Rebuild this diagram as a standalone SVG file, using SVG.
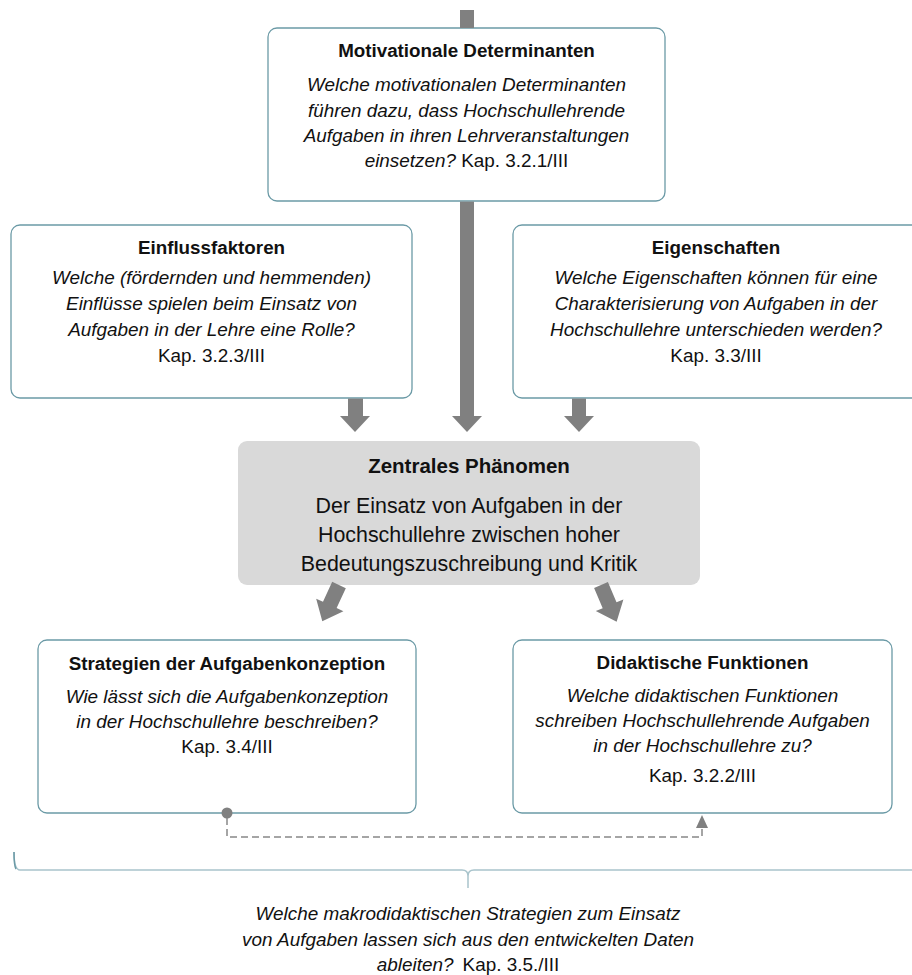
<svg xmlns="http://www.w3.org/2000/svg" width="912" height="975" viewBox="0 0 912 975">
<style>
  .box { fill: #ffffff; stroke: #6b9aa6; stroke-width: 1.3; }
  .core { fill: #d9d9d9; stroke: none; }
  .arr { fill: #808080; stroke: none; }
  text { font-family: "Liberation Sans", Arial, sans-serif; fill: #111; text-anchor: middle; }
  .t { font-weight: bold; font-size: 18.8px; }
  .q { font-style: italic; font-size: 18.9px; }
  .k { font-style: normal; }
  .ct { font-weight: bold; font-size: 20.5px; }
  .cb { font-size: 21.4px; }
  .dash { fill: none; stroke: #888; stroke-width: 1.5; stroke-dasharray: 7 4; }
  .brace { fill: none; stroke: #a9c4cc; stroke-width: 1.5; }
</style>

<g id="motivationale">
  <rect class="box" x="268" y="28" width="397" height="173" rx="9"/>
  <text class="t" x="466.5" y="57">Motivationale Determinanten</text>
  <text class="q" x="466.5" y="91">Welche motivationalen Determinanten</text>
  <text class="q" x="466.5" y="117">führen dazu, dass Hochschullehrende</text>
  <text class="q" x="466.5" y="142">Aufgaben in ihren Lehrveranstaltungen</text>
  <text class="q" x="466.5" y="167">einsetzen?<tspan class="k"> Kap. 3.2.1/III</tspan></text>
</g>

<g id="einflussfaktoren">
  <rect class="box" x="11" y="225" width="401" height="173" rx="9"/>
  <text class="t" x="211.5" y="254">Einflussfaktoren</text>
  <text class="q" x="211.5" y="284">Welche (fördernden und hemmenden)</text>
  <text class="q" x="211.5" y="310">Einflüsse spielen beim Einsatz von</text>
  <text class="q" x="211.5" y="336">Aufgaben in der Lehre eine Rolle?</text>
  <text class="q k" x="211.5" y="362">Kap. 3.2.3/III</text>
</g>

<g id="eigenschaften">
  <rect class="box" x="513" y="225" width="410" height="173" rx="9"/>
  <text class="t" x="716" y="254">Eigenschaften</text>
  <text class="q" x="716" y="284">Welche Eigenschaften können für eine</text>
  <text class="q" x="716" y="310">Charakterisierung von Aufgaben in der</text>
  <text class="q" x="716" y="336">Hochschullehre unterschieden werden?</text>
  <text class="q k" x="716" y="362">Kap. 3.3/III</text>
</g>

<g id="zentrales-phaenomen">
  <rect class="core" x="238" y="441" width="462" height="144" rx="9"/>
  <text class="ct" x="469" y="473">Zentrales Phänomen</text>
  <text class="cb" x="469" y="513">Der Einsatz von Aufgaben in der</text>
  <text class="cb" x="469" y="542">Hochschullehre zwischen hoher</text>
  <text class="cb" x="469" y="571">Bedeutungszuschreibung und Kritik</text>
</g>

<g id="strategien">
  <rect class="box" x="38" y="640" width="378" height="173" rx="9"/>
  <text class="t" x="227" y="670">Strategien der Aufgabenkonzeption</text>
  <text class="q" x="227" y="703">Wie lässt sich die Aufgabenkonzeption</text>
  <text class="q" x="227" y="728">in der Hochschullehre beschreiben?</text>
  <text class="q k" x="227" y="753">Kap. 3.4/III</text>
</g>

<g id="didaktische-funktionen">
  <rect class="box" x="513" y="640" width="379" height="173" rx="9"/>
  <text class="t" x="702.5" y="669">Didaktische Funktionen</text>
  <text class="q" x="702.5" y="702">Welche didaktischen Funktionen</text>
  <text class="q" x="702.5" y="727">schreiben Hochschullehrende Aufgaben</text>
  <text class="q" x="702.5" y="752">in der Hochschullehre zu?</text>
  <text class="q k" x="702.5" y="782">Kap. 3.2.2/III</text>
</g>

<g id="makrodidaktik">
  <text class="q" x="468" y="920">Welche makrodidaktischen Strategien zum Einsatz</text>
  <text class="q" x="468" y="946">von Aufgaben lassen sich aus den entwickelten Daten</text>
  <text class="q" x="468" y="971">ableiten?<tspan class="k" dx="9">Kap. 3.5./III</tspan></text>
</g>

<g id="connectors">
  <!-- vertical arrow from top, passing behind Motivationale box -->
  <rect class="arr" x="460" y="10" width="14" height="18"/>
  <rect class="arr" x="460" y="201.6" width="14" height="215.4"/>
  <polygon class="arr" points="452,416 482,416 467,432"/>
  <!-- Einflussfaktoren arrow -->
  <rect class="arr" x="348" y="398.6" width="15" height="18.4"/>
  <polygon class="arr" points="340,416 370,416 355,432"/>
  <!-- Eigenschaften arrow -->
  <rect class="arr" x="572" y="398.6" width="14" height="18.4"/>
  <polygon class="arr" points="564,416 594,416 579,432"/>
  <!-- diagonal arrows from core -->
  <polygon class="arr" transform="translate(339,585) rotate(24.7)" points="-7.5,0 7.5,0 7.5,22 15,22 0,40 -15,22 -7.5,22"/>
  <polygon class="arr" transform="translate(601,585) rotate(-23)" points="-7.5,0 7.5,0 7.5,22 15,22 0,40 -15,22 -7.5,22"/>
  <!-- dashed link between bottom boxes -->
  <path class="dash" d="M227,818 L227,837 L702,837 L702,828"/>
  <circle cx="227" cy="813" r="5.5" fill="#808080"/>
  <polygon points="702,815 696,828 708,828" fill="#808080"/>
  <!-- brace -->
  <path class="brace" d="M14,852 Q14,870 20,870 L462,870 Q468,870 468,876 L468,888 M468,876 Q468,870 474,870 L912,870"/>
  <path d="M14,852 Q14,866 16,869" fill="none" stroke="#6b9aa6" stroke-width="1.5"/>
</g>
</svg>
